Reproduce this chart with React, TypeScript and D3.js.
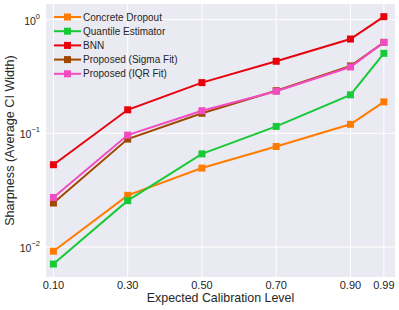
import * as d3 from "d3";

const levels = [0.1, 0.3, 0.5, 0.7, 0.9, 0.99];
const xTickLabels = ["0.10", "0.30", "0.50", "0.70", "0.90", "0.99"];

const concreteDropout = [0.0092, 0.0285, 0.0495, 0.0766, 0.12, 0.189];
const quantileEstimator = [0.0071, 0.0256, 0.066, 0.115, 0.218, 0.505];
const bnn = [0.053, 0.161, 0.279, 0.43, 0.674, 1.06];
const sigmaFit = [0.0244, 0.089, 0.15, 0.237, 0.391, 0.63];
const iqrFit = [0.0273, 0.0965, 0.158, 0.234, 0.383, 0.63];

const series = [
  { name: "Concrete Dropout", color: "#ff7c00", values: concreteDropout },
  { name: "Quantile Estimator", color: "#1ac938", values: quantileEstimator },
  { name: "BNN", color: "#e8000b", values: bnn },
  { name: "Proposed (Sigma Fit)", color: "#9f4800", values: sigmaFit },
  { name: "Proposed (IQR Fit)", color: "#f14cc1", values: iqrFit },
];

const yTicks = [0.01, 0.1, 1];

const App = () => {
  const width = 399;
  const height = 310;
  const margin = { left: 46, right: 4, top: 4, bottom: 33 };

  const x = d3
    .scaleLinear()
    .domain([0.08, 1.02])
    .range([margin.left, width - margin.right]);
  const y = d3
    .scaleLog()
    .domain([0.00546, 1.37])
    .range([height - margin.bottom, margin.top]);

  const line = d3
    .line<number>()
    .x((d, i) => x(levels[i]))
    .y((d) => y(d));

  const font = "'Liberation Sans', Arial, sans-serif";

  return (
    <svg
      width={width}
      height={height}
      style={{ position: "absolute", left: 0, top: 0, fontFamily: font }}
    >
      <rect
        x={margin.left}
        y={margin.top}
        width={width - margin.left - margin.right}
        height={height - margin.top - margin.bottom}
        fill="#eaeaf2"
      />
      {levels.map((l) => (
        <line
          key={l}
          x1={x(l)}
          x2={x(l)}
          y1={margin.top}
          y2={height - margin.bottom}
          stroke="#fff"
          strokeWidth={1}
        />
      ))}
      {yTicks.map((t) => (
        <line
          key={t}
          x1={margin.left}
          x2={width - margin.right}
          y1={y(t)}
          y2={y(t)}
          stroke="#fff"
          strokeWidth={1}
        />
      ))}
      {series.map((s) => (
        <g key={s.name}>
          <path d={line(s.values) ?? ""} fill="none" stroke={s.color} strokeWidth={2} />
          {s.values.map((v, i) => (
            <rect
              key={i}
              x={x(levels[i]) - 3.5}
              y={y(v) - 3.5}
              width={7}
              height={7}
              fill={s.color}
            />
          ))}
        </g>
      ))}
      {levels.map((l, i) => (
        <text
          key={l}
          x={x(l)}
          y={height - margin.bottom + 8}
          textAnchor="middle"
          dominantBaseline="central"
          fontSize={11}
          fill="#262626"
        >
          {xTickLabels[i]}
        </text>
      ))}
      {yTicks.map((t) => (
        <text
          key={t}
          x={margin.left - 6}
          y={y(t) + 5}
          textAnchor="end"
          fontSize={10.5}
          fill="#262626"
        >
          10
          <tspan dy={-6} fontSize={7.5}>
            {Math.round(Math.log10(t)) === 0 ? "0" : "\u2212" + Math.abs(Math.round(Math.log10(t)))}
          </tspan>
        </text>
      ))}
      <text
        x={(margin.left + width - margin.right) / 2}
        y={height - 8}
        textAnchor="middle"
        fontSize={12.4}
        fill="#262626"
      >
        Expected Calibration Level
      </text>
      <text
        transform={`translate(14,${(margin.top + height - margin.bottom) / 2}) rotate(-90)`}
        textAnchor="middle"
        fontSize={12.6}
        fill="#262626"
      >
        Sharpness (Average CI Width)
      </text>
      {series.map((s, i) => {
        const ly = 17 + i * 14.2;
        return (
          <g key={s.name}>
            <line x1={54} x2={81} y1={ly} y2={ly} stroke={s.color} strokeWidth={2} />
            <rect x={64} y={ly - 3.5} width={7} height={7} fill={s.color} />
            <text x={83} y={ly + 3.6} fontSize={10} fill="#262626">
              {s.name}
            </text>
          </g>
        );
      })}
    </svg>
  );
};

export default App;
